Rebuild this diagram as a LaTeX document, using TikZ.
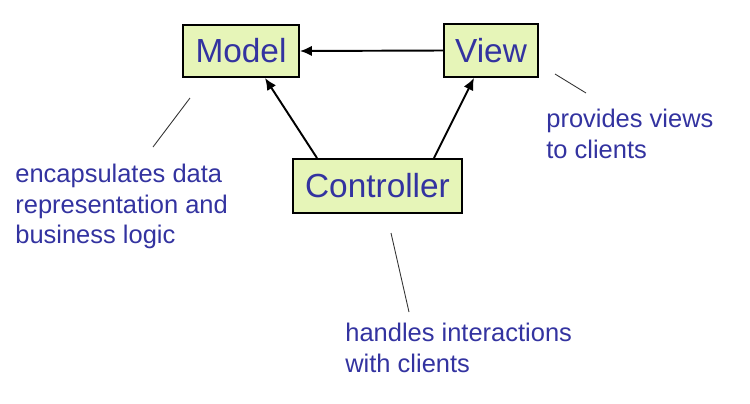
\documentclass[tikz,border=0pt]{standalone}
\usepackage{fontspec}
\setmainfont{Liberation Sans}
\usepackage{xcolor}
\usepackage{tikz}
\usetikzlibrary{arrows.meta}
\definecolor{mvcink}{HTML}{3333A0}
\definecolor{mvcfill}{HTML}{E6F5B8}
\definecolor{leadgray}{HTML}{333333}
\tikzset{
  mvcbox/.style={
    draw=black,
    line width=1.1pt,
    fill=mvcfill,
    text=mvcink,
    font=\fontsize{19pt}{22pt}\selectfont,
    inner sep=0pt
  },
  mvcarrow/.style={-{Latex[length=2.4mm,width=2.1mm]}, line width=1.1pt, draw=black},
  leadline/.style={draw=leadgray, line width=0.5pt},
  ann/.style={
    font=\fontsize{14.5pt}{17.3pt}\selectfont,
    text=mvcink,
    align=left,
    inner sep=0pt,
    anchor=north west
  }
}
\begin{document}
\begin{tikzpicture}
  \useasboundingbox (0,0) rectangle (15,-8.08);

  \node[mvcbox, minimum width=2.32cm, minimum height=1.04cm] (model) at (4.82,-1.02) {Model};
  \node[mvcbox, minimum width=1.88cm, minimum height=1.06cm] (view) at (9.82,-1.01) {View};
  \node[mvcbox, minimum width=3.38cm, minimum height=1.08cm] (ctrl) at (7.55,-3.72) {Controller};

  \draw[mvcarrow] (view.west) -- (model.east);
  \draw[mvcarrow] ([xshift=-1.21cm]ctrl.north) -- ([xshift=0.48cm]model.south);
  \draw[mvcarrow] ([xshift=1.13cm]ctrl.north) -- ([xshift=-0.34cm]view.south);

  \node[ann] (modelnote) at (0.30,-3.28) {encapsulates data\\representation and\\business logic};
  \node[ann] (viewnote) at (10.92,-2.18) {provides views\\to clients};
  \node[ann] (ctrlnote) at (6.90,-6.46) {handles interactions\\with clients};

  \coordinate (modellead1) at (3.06,-2.94);
  \coordinate (modellead2) at (3.80,-1.96);
  \coordinate (viewlead1) at (11.10,-1.48);
  \coordinate (viewlead2) at (11.72,-1.86);
  \coordinate (ctrllead1) at (7.82,-4.66);
  \coordinate (ctrllead2) at (8.18,-6.24);

  \draw[leadline] (modellead1) -- (modellead2);
  \draw[leadline] (viewlead1) -- (viewlead2);
  \draw[leadline] (ctrllead1) -- (ctrllead2);
\end{tikzpicture}
\end{document}
